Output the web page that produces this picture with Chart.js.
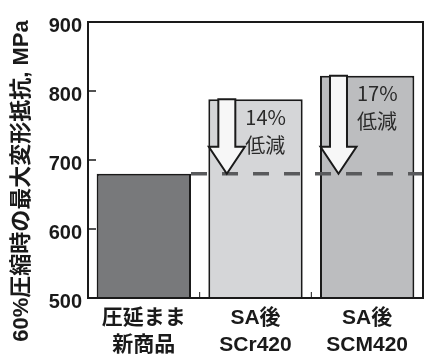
<!DOCTYPE html>
<html>
<head>
<meta charset="utf-8">
<script src="https://cdn.jsdelivr.net/npm/chart.js@4/dist/chart.umd.min.js"></script>
<style>
  html, body { margin: 0; padding: 0; background: #ffffff; }
  #wrap { width: 424px; height: 356px; }
</style>
</head>
<body>
<div id="wrap"><canvas id="c" width="424" height="356"></canvas></div>
<script>
// Categories (two-line labels) and maximum deformation resistance at 60% compression, MPa
const categories = [['圧延まま', '新商品'], ['SA後', 'SCr420'], ['SA後', 'SCM420']];
const resistance = [680, 788, 822];
const barColors = ['#78797b', '#d5d6d8', '#bcbdbf'];
const yMin = 500;
const yMax = 900;
const yStep = 100;
const yTitle = '60%圧縮時の最大変形抵抗, MPa';
const reductionWord = '低減';

// the as-rolled product is the reference level for the reduction arrows
const baseIndex = 0;

const LATIN_CJK = "'Liberation Sans', 'Noto Sans CJK JP', sans-serif";
const CJK = "'Noto Sans CJK JP', sans-serif";
const INK = '#1a1a1a';

const overlay = {
  id: 'overlay',
  afterDatasetsDraw(chart) {
    const ctx = chart.ctx;
    const area = chart.chartArea;
    const y = chart.scales.y;
    const x = chart.scales.x;
    const bars = chart.getDatasetMeta(0).data;
    const baseVal = resistance[baseIndex];
    const baseY = y.getPixelForValue(baseVal);

    // dashed reference line at the as-rolled level
    ctx.save();
    const startX = bars[baseIndex].x + bars[baseIndex].width / 2;
    ctx.strokeStyle = '#595a5c';
    ctx.lineWidth = 3.5;
    ctx.setLineDash([16, 15]);
    ctx.beginPath();
    ctx.moveTo(startX, baseY);
    ctx.lineTo(area.right, baseY);
    ctx.stroke();
    ctx.restore();

    // hollow arrows and reduction labels on the SA bars
    resistance.forEach((v, i) => {
      if (i === baseIndex) return;
      const bar = bars[i];
      const left = bar.x - bar.width / 2;
      const topY = y.getPixelForValue(v);
      const tipX = left + 18.5;
      const shaftHalf = 8.5;
      const headHalf = 18;
      const headH = 27;
      ctx.save();
      ctx.beginPath();
      ctx.moveTo(tipX - shaftHalf, topY);
      ctx.lineTo(tipX - shaftHalf, baseY - headH);
      ctx.lineTo(tipX - headHalf, baseY - headH);
      ctx.lineTo(tipX, baseY);
      ctx.lineTo(tipX + headHalf, baseY - headH);
      ctx.lineTo(tipX + shaftHalf, baseY - headH);
      ctx.lineTo(tipX + shaftHalf, topY);
      ctx.closePath();
      ctx.fillStyle = '#f7f7f7';
      ctx.fill();
      ctx.strokeStyle = INK;
      ctx.lineWidth = 2;
      ctx.lineJoin = 'miter';
      ctx.stroke();

      const pct = Math.round((v - baseVal) / v * 100);
      ctx.fillStyle = '#2a2a2a';
      ctx.font = '20px ' + CJK;
      ctx.textAlign = 'left';
      ctx.textBaseline = 'middle';
      ctx.fillText(pct + '%', left + 37, topY + 18);
      ctx.fillText(reductionWord, left + 37, topY + 46);
      ctx.restore();
    });

    // plot frame with inward tick marks
    ctx.save();
    ctx.strokeStyle = INK;
    ctx.lineWidth = 2;
    ctx.strokeRect(area.left, area.top, area.right - area.left, area.bottom - area.top);
    ctx.lineWidth = 1.5;
    ctx.beginPath();
    for (let t = yMin + yStep; t < yMax; t += yStep) {
      const py = y.getPixelForValue(t);
      ctx.moveTo(area.left, py);
      ctx.lineTo(area.left + 8, py);
    }
    ctx.stroke();
    ctx.lineWidth = 1;
    ctx.beginPath();
    for (let k = 1; k < categories.length; k++) {
      const px = (x.getPixelForValue(k - 1) + x.getPixelForValue(k)) / 2;
      ctx.moveTo(px, area.bottom);
      ctx.lineTo(px, area.bottom - 6);
    }
    ctx.stroke();
    ctx.restore();

    // rotated y-axis title
    ctx.save();
    ctx.translate(22, 181);
    ctx.rotate(-Math.PI / 2);
    ctx.fillStyle = INK;
    ctx.font = 'bold 22px ' + LATIN_CJK;
    ctx.textAlign = 'center';
    ctx.textBaseline = 'middle';
    ctx.fillText(yTitle, 0, 0);
    ctx.restore();
  }
};

new Chart(document.getElementById('c'), {
  type: 'bar',
  data: {
    labels: categories,
    datasets: [{
      data: resistance,
      backgroundColor: barColors,
      borderColor: INK,
      borderWidth: 2,
      borderSkipped: 'start',
      barPercentage: 0.845,
      categoryPercentage: 1
    }]
  },
  options: {
    responsive: false,
    devicePixelRatio: 1,
    animation: false,
    layout: { padding: { top: 22, right: 1, left: 0, bottom: 0 } },
    plugins: { legend: { display: false }, tooltip: { enabled: false } },
    scales: {
      x: {
        grid: { display: false, drawTicks: false },
        border: { display: false },
        ticks: {
          color: INK,
          font: { family: LATIN_CJK, size: 21, weight: 'bold', lineHeight: 1.28 },
          padding: 7,
          maxRotation: 0,
          autoSkip: false
        },
        afterFit(s) { s.height = 58; }
      },
      y: {
        min: yMin,
        max: yMax,
        grid: { display: false, drawTicks: false },
        border: { display: false },
        ticks: {
          stepSize: yStep,
          color: INK,
          font: { family: LATIN_CJK, size: 20, weight: 'bold' },
          padding: 6,
          labelOffset: 4
        },
        afterFit(s) { s.width = 88; }
      }
    }
  },
  plugins: [overlay]
});
</script>
</body>
</html>
